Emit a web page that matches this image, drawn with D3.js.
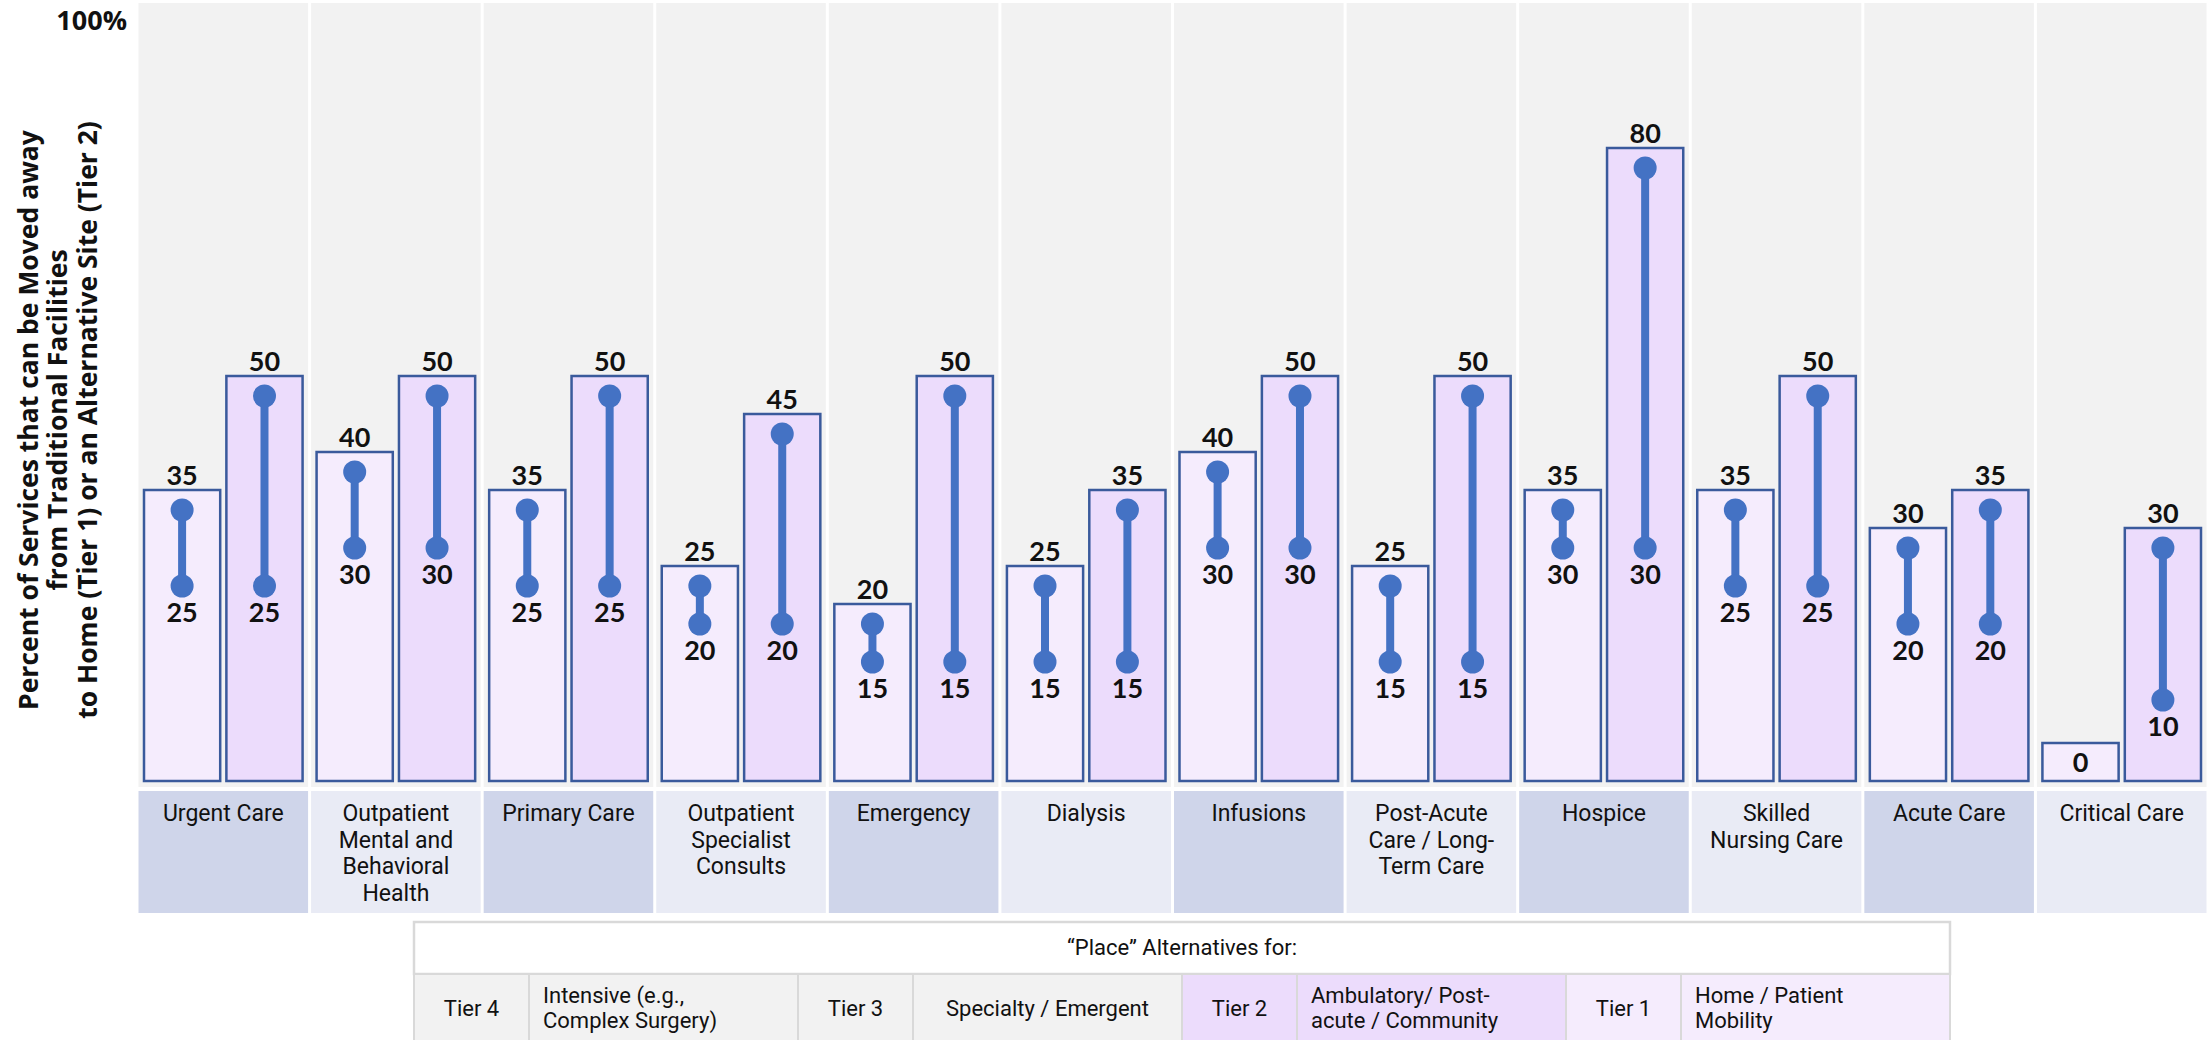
<!DOCTYPE html>
<html><head><meta charset="utf-8">
<script src="https://cdn.jsdelivr.net/npm/d3@7"></script>
<style>
html,body{margin:0;padding:0;background:#fff;}
svg{display:block;}
</style></head>
<body>
<svg id="c" width="2208" height="1040"></svg>
<script>
const categories = ["Urgent Care","Outpatient Mental and Behavioral Health","Primary Care","Outpatient Specialist Consults","Emergency","Dialysis","Infusions","Post-Acute Care / Long-Term Care","Hospice","Skilled Nursing Care","Acute Care","Critical Care"];
const categoryLines = [["Urgent Care"],["Outpatient","Mental and","Behavioral","Health"],["Primary Care"],["Outpatient","Specialist","Consults"],["Emergency"],["Dialysis"],["Infusions"],["Post-Acute","Care / Long-","Term Care"],["Hospice"],["Skilled","Nursing Care"],["Acute Care"],["Critical Care"]];
const tiers = ["Tier 1","Tier 2"];
const tier1High = [35,40,35,25,20,25,40,25,35,35,30,0];
const tier1Low  = [25,30,25,20,15,15,30,15,30,25,20,0];
const tier2High = [50,50,50,45,50,35,50,50,80,50,35,30];
const tier2Low  = [25,30,25,20,15,15,30,15,30,25,20,10];
const yTicks = [100];
const yTitle = ["Percent of Services that can be Moved away","from Traditional Facilities","to Home (Tier 1) or an Alternative Site (Tier 2)"];
const legendTitle = "\u201CPlace\u201D Alternatives for:";
const legendTiers = ["Tier 4","Tier 3","Tier 2","Tier 1"];
const legendDescs = [["Intensive (e.g.,","Complex Surgery)"],["Specialty / Emergent"],["Ambulatory/ Post-","acute / Community"],["Home / Patient","Mobility"]];

const svg = d3.select("#c");
const panelTop = 3, panelBottom = 787, barBottom = 781;
const x0 = d3.scaleBand().domain(categories).range([137, 2208]).padding(0);
const x1 = d3.scaleBand().domain(tiers).range([0, x0.bandwidth()]).paddingInner(0.075).paddingOuter(0.085);
const y = d3.scaleLinear().domain([0, 100]).range([776, 16]);

const fills = {"Tier 1":"#f5ecfd","Tier 2":"#ecdcfc"};
const lolli = "#4472c4";
const numFont = "Lato, 'Open Sans', sans-serif";

// panel columns
svg.append("g").selectAll("rect").data(categories).join("rect")
  .attr("x", d => x0(d) + 1.5).attr("y", panelTop)
  .attr("width", x0.bandwidth() - 3).attr("height", panelBottom - panelTop)
  .attr("fill", "#f2f2f2");

// category label boxes
const lab = svg.append("g").selectAll("g").data(categories).join("g");
lab.append("rect")
  .attr("x", d => x0(d) + 1.5).attr("y", 791)
  .attr("width", x0.bandwidth() - 3).attr("height", 122)
  .attr("fill", (d,i) => i % 2 === 0 ? "#cfd5ea" : "#e9ebf5");
lab.append("text")
  .attr("x", d => x0(d) + x0.bandwidth()/2).attr("y", 821)
  .attr("text-anchor", "middle")
  .attr("font-family", "Roboto, sans-serif").attr("font-size", 23)
  .attr("fill", "#111")
  .each(function(d,i){
    const t = d3.select(this);
    categoryLines[i].forEach((ln, k) => t.append("tspan").attr("x", x0(d) + x0.bandwidth()/2).attr("dy", k === 0 ? 0 : 26.5).text(ln));
  });

// build rows
const rows = [];
categories.forEach((c, i) => {
  rows.push({cat: c, tier: "Tier 1", hi: tier1High[i], lo: tier1Low[i]});
  rows.push({cat: c, tier: "Tier 2", hi: tier2High[i], lo: tier2Low[i]});
});
const bx = d => x0(d.cat) + x1(d.tier);
const cx = d => bx(d) + x1.bandwidth()/2;
const barTop = d => Math.min(y(d.hi) - 20, barBottom - 38);

const g = svg.append("g");
g.selectAll("rect.bar").data(rows).join("rect").attr("class","bar")
  .attr("x", d => bx(d)).attr("y", d => barTop(d))
  .attr("width", x1.bandwidth()).attr("height", d => barBottom - barTop(d))
  .attr("fill", d => fills[d.tier]).attr("stroke", "#3a5a9c").attr("stroke-width", 2.5);

const ranged = rows.filter(d => d.hi > d.lo);
g.selectAll("line.stem").data(ranged).join("line").attr("class","stem")
  .attr("x1", cx).attr("x2", cx).attr("y1", d => y(d.hi)).attr("y2", d => y(d.lo))
  .attr("stroke", lolli).attr("stroke-width", 8);
g.selectAll("circle.hi").data(ranged).join("circle").attr("class","hi")
  .attr("cx", cx).attr("cy", d => y(d.hi)).attr("r", 11.5).attr("fill", lolli);
g.selectAll("circle.lo").data(ranged).join("circle").attr("class","lo")
  .attr("cx", cx).attr("cy", d => y(d.lo)).attr("r", 11.5).attr("fill", lolli);

g.selectAll("text.top").data(ranged).join("text").attr("class","top")
  .attr("x", cx).attr("y", d => barTop(d) - 5).attr("text-anchor","middle")
  .attr("font-family", numFont).attr("font-weight", 700).attr("font-size", 27).attr("fill","#111")
  .text(d => d.hi);
g.selectAll("text.bot").data(ranged).join("text").attr("class","bot")
  .attr("x", cx).attr("y", d => y(d.lo) + 36).attr("text-anchor","middle")
  .attr("font-family", numFont).attr("font-weight", 700).attr("font-size", 27).attr("fill","#111")
  .text(d => d.lo);
g.selectAll("text.flat").data(rows.filter(d => d.hi === d.lo)).join("text").attr("class","flat")
  .attr("x", cx).attr("y", d => (barTop(d) + barBottom)/2 + 10).attr("text-anchor","middle")
  .attr("font-family", numFont).attr("font-weight", 700).attr("font-size", 27).attr("fill","#111")
  .text(d => d.hi);

// y tick label
svg.append("g").selectAll("text").data(yTicks).join("text")
  .attr("x", 127).attr("y", d => y(d) + 14).attr("text-anchor","end")
  .attr("font-family", "'Open Sans', sans-serif").attr("font-weight", 700).attr("font-size", 27).attr("fill","#111")
  .text(d => d + "%");

// y title
const yt = svg.append("text").attr("transform", "translate(58,420) rotate(-90)")
  .attr("text-anchor","middle").attr("font-family","'Open Sans', sans-serif")
  .attr("font-weight",700).attr("font-size",26.5).attr("fill","#111");
yTitle.forEach((ln,k) => yt.append("tspan").attr("x",0).attr("y",(k-1)*29.5 + 9).text(ln));

// legend
const lgX = 414, lgW = 1536, lgTop = 922, lgMid = 974, lgBot = 1060;
const leg = svg.append("g");
leg.append("rect").attr("x", lgX).attr("y", lgTop).attr("width", lgW).attr("height", lgMid - lgTop).attr("fill","#fff").attr("stroke","#d9d9d9").attr("stroke-width",2.5);
leg.append("text").attr("x", lgX + lgW/2).attr("y", 955).attr("text-anchor","middle")
  .attr("font-family","Roboto, sans-serif").attr("font-size",22).attr("fill","#111").text(legendTitle);
const tierW = 115, descW = (lgW - 4*tierW)/4;
const legFill = {"Tier 4":"#f2f2f2","Tier 3":"#f2f2f2","Tier 2":"#ecdcfc","Tier 1":"#f5ecfd"};
legendTiers.forEach((t,i) => {
  const xs = lgX + i*(tierW + descW);
  leg.append("rect").attr("x", xs).attr("y", lgMid).attr("width", tierW).attr("height", lgBot - lgMid)
    .attr("fill", legFill[t]).attr("stroke","#d9d9d9").attr("stroke-width",2);
  leg.append("rect").attr("x", xs + tierW).attr("y", lgMid).attr("width", descW).attr("height", lgBot - lgMid)
    .attr("fill", legFill[t]).attr("stroke","#d9d9d9").attr("stroke-width",2);
  leg.append("text").attr("x", xs + tierW/2).attr("y", 1016).attr("text-anchor","middle")
    .attr("font-family","Roboto, sans-serif").attr("font-size",22).attr("fill","#111").text(t);
  const tx = leg.append("text").attr("font-family","Roboto, sans-serif").attr("font-size",22).attr("fill","#111");
  const lines = legendDescs[i];
  if (lines.length === 1) {
    tx.attr("x", xs + tierW + descW/2).attr("y", 1016).attr("text-anchor","middle").text(lines[0]);
  } else {
    lines.forEach((ln,k) => tx.append("tspan").attr("x", xs + tierW + 14).attr("y", 1003 + k*25).text(ln));
  }
});
</script>
</body></html>
